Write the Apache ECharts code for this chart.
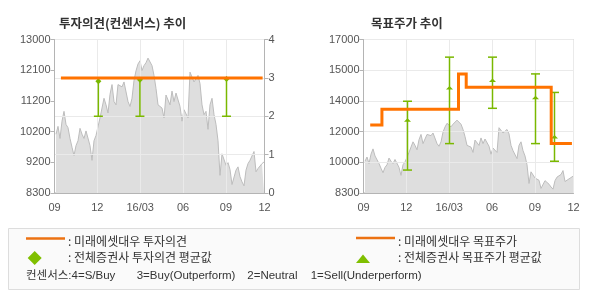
<!DOCTYPE html>
<html><head><meta charset="utf-8">
<script src="https://cdn.jsdelivr.net/npm/echarts@6/dist/echarts.min.js"></script>
<style>html,body{margin:0;padding:0;background:#fff;}#c{width:590px;height:300px;}</style>
</head><body><div id="c"></div>
<script>
// ---- data ----
const xTickValues = [0, 3, 6, 9, 12, 14.7];
const xTickLabels = ['09', '12', '16/03', '06', '09', '12'];
const leftPriceLabels = ['8300', '9200', '10200', '11200', '12100', '13000'];
const rightPriceLabels = ['8300', '10000', '12000', '14000', '15000', '17000'];
const consensusLabels = ['0', '1', '2', '3', '4'];

// daily-ish closing prices (months since 2015-09), start and step
const priceStartMonth = 0.105;
const priceStepMonth = 0.14;
const priceValues = [
  10100, 10340, 9970, 10500, 10800, 10400, 10300, 9970, 9700, 9450,
  9750, 9900, 10280, 10100, 9970, 10200, 10150, 9750, 9300, 9900,
  10060, 10050, 10600, 10650, 11200, 11000, 10750, 11320, 11620, 11100,
  11000, 11620, 11650, 11550, 11700, 11650, 11100, 10950, 11200, 11750,
  12040, 12250, 12350, 12050, 12200, 12290, 12430, 12400, 12200, 11900,
  11500, 11000, 11050, 10900, 10600, 11300, 11250, 11000, 11420, 11100,
  11360, 11420, 10950, 10500, 10850, 10900, 10600, 12000, 11950, 11700,
  11800, 11900, 11650, 11000, 10700, 10800, 10250, 11000, 11200, 10700,
  10400, 9900, 8840, 9500, 9550, 9150, 9230, 9020, 8560, 8600,
  9000, 9100, 8800, 8640, 8520, 9000, 9200, 9300, 9350, 9570,
  8950, 9050, 9100, 9200, 9250
];

// 미래에셋대우 투자의견 (consensus scale)
const opinionMonths = [0.45, 14.57];
const opinionValues = [3, 3];
// 전체증권사 투자의견
const consMonths = [3.07, 5.98, 12.04];
const consMin = [2, 2, 2];
const consMax = [3, 3, 3];
const consAvg = [2.91, 2.95, 2.97];

// 미래에셋대우 목표주가 (step)
const targetMonths = [0.47, 1.29, 6.65, 7.19, 13.14, 14.59];
const targetValues = [12160, 13050, 15040, 14290, 11100, 11100];
// 전체증권사 목표주가
const tpMonths = [3.08, 6.02, 9.03, 12.04, 13.37];
const tpMin = [9600, 11100, 13100, 11100, 10100];
const tpMax = [13500, 16000, 16000, 15050, 14000];
const tpAvg = [12420, 14250, 14680, 13700, 11480];

// ---- build ----
const priceData = priceValues.map((v, i) => [priceStartMonth + i * priceStepMonth, v]);
const zip2 = (a, b) => a.map((v, i) => [v, b[i]]);
const consData = consMonths.map((m, i) => [m, consMin[i], consMax[i], consAvg[i]]);
const tpData = tpMonths.map((m, i) => [m, tpMin[i], tpMax[i], tpAvg[i]]);

const ORANGE = '#ff7300';
const GREEN = '#7ab800';
const AXIS = '#b4b4b4';
const GRIDC = '#eaeaea';
const LABEL = '#555';
const FONT = "'Liberation Sans', 'Noto Sans CJK KR', sans-serif";
const KFONT = "'Noto Sans CJK KR', sans-serif";

function xLabel(v) {
  let best = 0, d = 1e9;
  xTickValues.forEach((t, i) => { if (Math.abs(t - v) < d) { d = Math.abs(t - v); best = i; } });
  return xTickLabels[best];
}

function errorBar(marker) {
  return function (params, api) {
    const x = api.value(0);
    const lo = api.coord([x, api.value(1)]);
    const hi = api.coord([x, api.value(2)]);
    const av = api.coord([x, api.value(3)]);
    const c = 4.5;
    const ls = { stroke: GREEN, lineWidth: 1.5 };
    let mk;
    if (marker === 'diamond') {
      mk = { type: 'polygon', shape: { points: [[av[0], av[1] - 3], [av[0] + 3, av[1]], [av[0], av[1] + 3], [av[0] - 3, av[1]]] }, style: { fill: GREEN } };
    } else {
      mk = { type: 'polygon', shape: { points: [[av[0] - 3.5, av[1] + 1.5], [av[0] + 3.5, av[1] + 1.5], [av[0], av[1] - 2]] }, style: { fill: GREEN } };
    }
    return {
      type: 'group',
      children: [
        { type: 'line', shape: { x1: lo[0], y1: lo[1], x2: hi[0], y2: hi[1] }, style: ls },
        { type: 'line', shape: { x1: lo[0] - c, y1: lo[1], x2: lo[0] + c, y2: lo[1] }, style: ls },
        { type: 'line', shape: { x1: hi[0] - c, y1: hi[1], x2: hi[0] + c, y2: hi[1] }, style: ls },
        mk
      ]
    };
  };
}

function xAxisDef(gi) {
  return {
    type: 'value', gridIndex: gi, min: 0, max: 14.7, interval: 3, z: 2,
    axisLine: { show: true, lineStyle: { color: AXIS } },
    axisTick: { show: false },
    axisLabel: { color: LABEL, fontSize: 11, fontFamily: FONT, margin: 9, formatter: xLabel, showMaxLabel: true, showMinLabel: true },
    splitLine: { show: true, lineStyle: { color: GRIDC, width: 1 } }
  };
}

const chart = echarts.init(document.getElementById('c'), null, { renderer: 'canvas' });
chart.setOption({
  animation: false,
  backgroundColor: '#fff',
  title: [
    { text: '투자의견(컨센서스) 추이', left: 54, top: 12, textStyle: { fontSize: 12.5, fontWeight: 'bold', color: '#333', fontFamily: KFONT } },
    { text: '목표주가 추이', left: 366, top: 12, textStyle: { fontSize: 12.5, fontWeight: 'bold', color: '#333', fontFamily: KFONT } }
  ],
  grid: [
    { left: 54.5, top: 39.5, width: 210, height: 153.5, show: true, borderColor: AXIS, borderWidth: 1, backgroundColor: 'transparent' },
    { left: 363.5, top: 39.5, width: 210, height: 153.5, show: true, borderColor: AXIS, borderWidth: 1, backgroundColor: 'transparent' }
  ],
  xAxis: [xAxisDef(0), xAxisDef(1)],
  yAxis: [
    { // 0: left price labels (left chart)
      type: 'value', gridIndex: 0, position: 'left', min: 0, max: 5, interval: 1, z: 2,
      axisLine: { show: true, lineStyle: { color: AXIS } },
      axisTick: { show: true, length: 4, lineStyle: { color: AXIS } },
      axisLabel: { color: LABEL, fontSize: 11, fontFamily: FONT, margin: 4, formatter: v => leftPriceLabels[Math.round(v)] },
      splitLine: { show: false }
    },
    { // 1: hidden price scale (left chart)
      type: 'value', gridIndex: 0, position: 'left', min: 8300, max: 13000, show: false, splitLine: { show: false }
    },
    { // 2: consensus axis (right of left chart)
      type: 'value', gridIndex: 0, position: 'right', min: 0, max: 4, interval: 1, z: 2,
      axisLine: { show: true, lineStyle: { color: AXIS } },
      axisTick: { show: true, length: 4, lineStyle: { color: AXIS } },
      axisLabel: { color: LABEL, fontSize: 11, fontFamily: FONT, margin: 4, formatter: v => consensusLabels[Math.round(v)] },
      splitLine: { show: true, lineStyle: { color: GRIDC, width: 1 } }
    },
    { // 3: right chart labels
      type: 'value', gridIndex: 1, position: 'left', min: 0, max: 5, interval: 1, z: 2,
      axisLine: { show: true, lineStyle: { color: AXIS } },
      axisTick: { show: true, length: 4, lineStyle: { color: AXIS } },
      axisLabel: { color: LABEL, fontSize: 11, fontFamily: FONT, margin: 4, formatter: v => rightPriceLabels[Math.round(v)] },
      splitLine: { show: true, lineStyle: { color: GRIDC, width: 1 } }
    },
    { // 4: hidden price scale (right chart)
      type: 'value', gridIndex: 1, position: 'left', min: 8300, max: 17000, show: false, splitLine: { show: false }
    }
  ],
  series: [
    { type: 'line', xAxisIndex: 0, yAxisIndex: 1, data: priceData, showSymbol: false, symbol: 'none', z: 1,
      lineStyle: { color: '#bdbdbd', width: 1 }, areaStyle: { color: '#dedede', opacity: 1, origin: 'start' } },
    { type: 'custom', xAxisIndex: 0, yAxisIndex: 2, data: consData, renderItem: errorBar('diamond'), z: 3,
      encode: { x: 0, y: [1, 2, 3] } },
    { type: 'line', xAxisIndex: 0, yAxisIndex: 2, data: zip2(opinionMonths, opinionValues), showSymbol: false, symbol: 'none', z: 5,
      lineStyle: { color: ORANGE, width: 3 } },

    { type: 'line', xAxisIndex: 1, yAxisIndex: 4, data: priceData, showSymbol: false, symbol: 'none', z: 1,
      lineStyle: { color: '#bdbdbd', width: 1 }, areaStyle: { color: '#dedede', opacity: 1, origin: 'start' } },
    { type: 'custom', xAxisIndex: 1, yAxisIndex: 4, data: tpData, renderItem: errorBar('triangle'), z: 3,
      encode: { x: 0, y: [1, 2, 3] } },
    { type: 'line', xAxisIndex: 1, yAxisIndex: 4, data: zip2(targetMonths, targetValues), step: 'end', showSymbol: false, symbol: 'none', z: 5,
      lineStyle: { color: ORANGE, width: 3, join: 'miter' } }
  ],
  graphic: [
    { type: 'rect', shape: { x: 8.5, y: 228.5, width: 571, height: 61 }, style: { fill: '#fafafa', stroke: '#dddddd', lineWidth: 1 } },
    { type: 'line', shape: { x1: 26, y1: 238.5, x2: 65, y2: 238.5 }, style: { stroke: '#ec7212', lineWidth: 2.5 } },
    { type: 'text', style: { text: ': 미래에셋대우 투자의견', x: 68, y: 241, font: "12px " + KFONT, fill: '#333', verticalAlign: 'middle' } },
    { type: 'polygon', shape: { points: [[34.7, 251], [41.7, 258], [34.7, 265], [27.7, 258]] }, style: { fill: '#7fbf00' } },
    { type: 'text', style: { text: ': 전체증권사 투자의견 평균값', x: 68, y: 257.5, font: "12px " + KFONT, fill: '#333', verticalAlign: 'middle' } },
    { type: 'line', shape: { x1: 356, y1: 238, x2: 395, y2: 238 }, style: { stroke: '#ec7212', lineWidth: 2.5 } },
    { type: 'text', style: { text: ': 미래에셋대우 목표주가', x: 398, y: 241, font: "12px " + KFONT, fill: '#333', verticalAlign: 'middle' } },
    { type: 'polygon', shape: { points: [[356, 263], [370, 263], [363, 254.5]] }, style: { fill: '#7fbf00' } },
    { type: 'text', style: { text: ': 전체증권사 목표주가 평균값', x: 398, y: 257.5, font: "12px " + KFONT, fill: '#333', verticalAlign: 'middle' } },
    { type: 'text', style: { text: '컨센서스:4=S/Buy', x: 26, y: 275.5, font: "11.5px " + FONT, fill: '#333', verticalAlign: 'middle' } },
    { type: 'text', style: { text: '3=Buy(Outperform)', x: 136.7, y: 275.5, font: "11.5px " + FONT, fill: '#333', verticalAlign: 'middle' } },
    { type: 'text', style: { text: '2=Neutral', x: 247.3, y: 275.5, font: "11.5px " + FONT, fill: '#333', verticalAlign: 'middle' } },
    { type: 'text', style: { text: '1=Sell(Underperform)', x: 310.7, y: 275.5, font: "11.5px " + FONT, fill: '#333', verticalAlign: 'middle' } }
  ]
});
</script>
</body></html>
